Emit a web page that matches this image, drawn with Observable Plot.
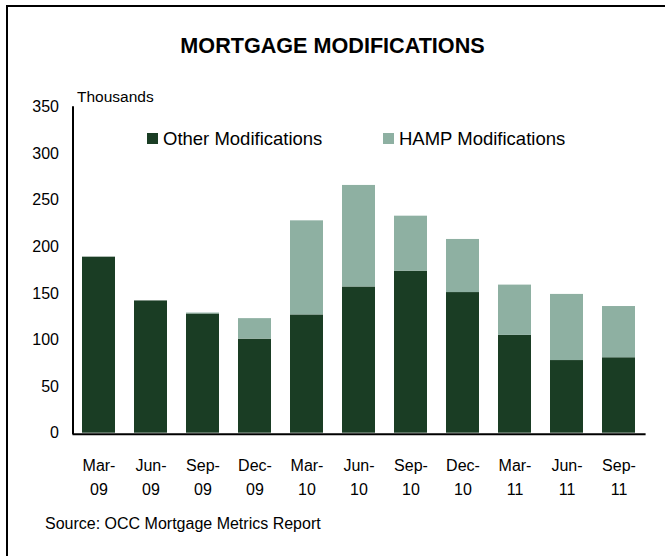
<!DOCTYPE html>
<html>
<head>
<meta charset="utf-8">
<script src="https://cdn.jsdelivr.net/npm/d3@7"></script>
<script src="https://cdn.jsdelivr.net/npm/@observablehq/plot@0.6"></script>
<style>
  body { margin: 0; background: #fff; }
  #wrap { position: relative; width: 665px; height: 556px; overflow: hidden; background: #fff;
          font-family: "Liberation Sans", Arial, Helvetica, sans-serif; color: #000; }
  #border { position: absolute; left: 6px; top: 5px; width: 720px; height: 620px;
            border-top: 2px solid #000; border-left: 2px solid #000; box-sizing: border-box; }
  #chart { position: absolute; left: 0; top: 0; }
  .txt { position: absolute; white-space: nowrap; line-height: 1; }
  #title { left: 0; width: 665px; text-align: center; top: 35px; font-size: 21.6px; font-weight: bold; }
  #units { left: 77px; top: 89px; font-size: 15.5px; }
  #legend { left: 147px; top: 130px; font-size: 18.5px; }
  .item { position: absolute; top: 0; white-space: nowrap; }
  .sw { position: absolute; top: 3px; width: 11px; height: 11px; }
  .lbl { position: absolute; top: 0; }
  #source { left: 45px; top: 516px; font-size: 16px; }
</style>
</head>
<body>
<div id="wrap">
  <div id="border"></div>
  <div id="chart"></div>
  <div id="title" class="txt"></div>
  <div id="units" class="txt"></div>
  <div id="legend" class="txt"></div>
  <div id="source" class="txt"></div>
</div>
<script>
const titleText = "MORTGAGE MODIFICATIONS";
const unitsText = "Thousands";
const sourceText = "Source: OCC Mortgage Metrics Report";

const categories = ["Mar-09", "Jun-09", "Sep-09", "Dec-09", "Mar-10", "Jun-10", "Sep-10", "Dec-10", "Mar-11", "Jun-11", "Sep-11"];
const otherMods = [189, 142, 128, 101, 127, 157, 174, 151, 105, 78, 81];
const hampMods  = [0, 0, 1, 22, 101, 109, 59, 57, 54, 71, 55];
const seriesNames = ["Other Modifications", "HAMP Modifications"];
const seriesColors = ["#1a3d24", "#8eb0a2"];
const yTicks = [0, 50, 100, 150, 200, 250, 300, 350];

const data = [];
categories.forEach((c, i) => {
  data.push({date: c, series: seriesNames[0], value: otherMods[i]});
  data.push({date: c, series: seriesNames[1], value: hampMods[i]});
});

const chart = Plot.plot({
  width: 665,
  height: 556,
  marginLeft: 72.5,
  marginRight: 19.4,
  marginTop: 106.7,
  marginBottom: 123.3,
  style: {fontFamily: '"Liberation Sans", Arial, Helvetica, sans-serif', fontSize: "16px", color: "#000", background: "transparent", overflow: "visible"},
  x: {domain: categories, paddingInner: 0.36, paddingOuter: 0.18, label: null},
  y: {domain: [0, 350], label: null},
  color: {domain: seriesNames, range: seriesColors},
  marks: [
    Plot.barY(data, {x: "date", y: "value", fill: "series"}),
    Plot.axisY({ticks: yTicks, tickSize: 0, tickPadding: 14, label: null, fill: "#000"}),
    Plot.axisX({tickSize: 0, tickPadding: 21, tickFormat: d => d.replace("-", "-\n"), lineHeight: 1.5, label: null, fill: "#000"}),
    Plot.ruleY([0], {stroke: "#000", strokeWidth: 2, dy: 1}),
    Plot.frame({anchor: "left", stroke: "#000", strokeWidth: 2})
  ]
});
document.getElementById("chart").appendChild(chart);

document.getElementById("title").textContent = titleText;
document.getElementById("units").textContent = unitsText;
document.getElementById("source").textContent = sourceText;

const legend = document.getElementById("legend");
const legendOffsets = [0, 236];
seriesNames.forEach((name, i) => {
  const item = document.createElement("div");
  item.className = "item";
  item.style.left = legendOffsets[i] + "px";
  const sw = document.createElement("div");
  sw.className = "sw";
  sw.style.left = "0px";
  sw.style.background = seriesColors[i];
  const lbl = document.createElement("div");
  lbl.className = "lbl";
  lbl.style.left = "16px";
  lbl.textContent = name;
  item.appendChild(sw);
  item.appendChild(lbl);
  legend.appendChild(item);
});
</script>
</body>
</html>
